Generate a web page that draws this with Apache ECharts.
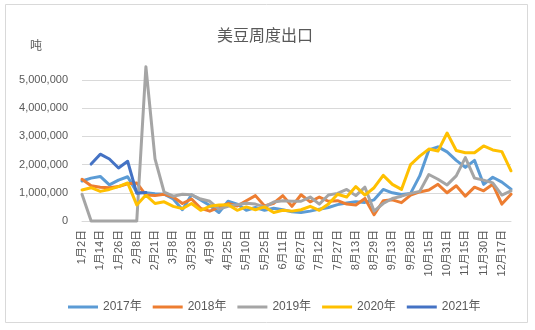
<!DOCTYPE html>
<html>
<head>
<meta charset="utf-8">
<script src="https://cdn.jsdelivr.net/npm/echarts@6/dist/echarts.min.js"></script>
<style>
html,body{margin:0;padding:0;background:#fff;}
#c{width:535px;height:330px;}
</style>
</head>
<body>
<div id="c"></div>
<script>
const categories = ['1月2日','1月8日','1月14日','1月20日','1月26日','2月1日','2月8日','2月14日','2月21日','2月28日',
'3月8日','3月15日','3月23日','4月1日','4月9日','4月17日','4月25日','5月2日','5月10日','5月17日',
'5月25日','6月2日','6月11日','6月19日','6月27日','7月4日','7月12日','7月19日','7月27日','8月5日',
'8月13日','8月21日','8月29日','9月5日','9月13日','9月20日','9月28日','10月7日','10月15日','10月23日',
'10月31日','11月7日','11月15日','11月22日','11月30日','12月8日','12月17日','12月24日'];

const y2017 = [1420000,1520000,1580000,1280000,1450000,1570000,1020000,1000000,970000,950000,
780000,400000,930000,750000,550000,300000,700000,600000,380000,480000,
380000,450000,400000,330000,300000,350000,420000,480000,580000,640000,
680000,660000,750000,1120000,1000000,940000,980000,1600000,2520000,2630000,
2450000,2150000,1900000,2150000,1300000,1550000,1380000,1130000];

const y2018 = [1480000,1250000,1200000,1180000,1220000,1320000,1350000,920000,900000,950000,
850000,620000,780000,450000,350000,480000,620000,530000,720000,900000,
530000,630000,900000,520000,930000,680000,850000,700000,720000,600000,
570000,800000,220000,720000,750000,650000,920000,1030000,1100000,1300000,
1000000,1250000,880000,1200000,1070000,1300000,600000,950000];

const y2019 = [950000,0,0,0,0,0,0,5470000,2200000,1020000,
880000,950000,930000,780000,700000,420000,520000,580000,630000,600000,
500000,670000,720000,700000,700000,850000,600000,920000,980000,1120000,
900000,1200000,350000,620000,800000,880000,980000,1050000,1650000,1480000,
1280000,1600000,2250000,1520000,1450000,1350000,920000,1070000];

const y2020 = [1100000,1180000,1050000,1120000,1220000,1350000,570000,920000,620000,680000,
520000,440000,620000,380000,520000,570000,580000,380000,500000,400000,
500000,300000,380000,350000,400000,520000,380000,600000,950000,850000,
1220000,920000,1180000,1620000,1300000,1120000,2000000,2300000,2550000,2480000,
3120000,2500000,2420000,2420000,2660000,2520000,2460000,1780000];

const y2021 = [null,2020000,2370000,2200000,1880000,2120000,980000,1010000,null,null,
null,null,null,null,null,null,null,null,null,null,
null,null,null,null,null,null,null,null,null,null,
null,null,null,null,null,null,null,null,null,null,
null,null,null,null,null,null,null,null];

const seriesNames = ['2017年','2018年','2019年','2020年','2021年'];
const seriesColors = ['#5B9BD5','#ED7D31','#A5A5A5','#FFC000','#4472C4'];
const seriesData = [y2017,y2018,y2019,y2020,y2021];

const FONT = '"Liberation Sans","Noto Sans CJK SC",sans-serif';
const chart = echarts.init(document.getElementById('c'), null, {renderer:'canvas'});
chart.setOption({
  animation:false,
  backgroundColor:'#fff',
  textStyle:{fontFamily:FONT},
  title:{
    text:'美豆周度出口',
    left:212, top:24,
    textStyle:{fontSize:16,fontWeight:'normal',color:'#595959',fontFamily:FONT}
  },
  graphic:[
    {type:'rect',shape:{x:5.5,y:4.5,width:522,height:318},style:{fill:'none',stroke:'#d9d9d9',lineWidth:1},silent:true,z:-1},
    {type:'text',left:30,top:41,style:{text:'吨',fontSize:12,fill:'#595959',fontFamily:FONT}}
  ],
  legend:{
    top:296, left:63,
    icon:'rect', itemWidth:30, itemHeight:3, itemGap:11,
    textStyle:{fontSize:12,color:'#595959',fontFamily:FONT},
    data:seriesNames
  },
  grid:{left:82,right:24,top:80,bottom:109,containLabel:false},
  xAxis:{
    type:'category',
    data:categories,
    boundaryGap:false,
    axisLine:{show:true,lineStyle:{color:'#d9d9d9',width:1}},
    axisTick:{show:false},
    axisLabel:{interval:1,rotate:90,fontSize:11,color:'#595959',margin:9,fontFamily:FONT}
  },
  yAxis:{
    type:'value',
    min:0,max:5000000,interval:1000000,
    axisLine:{show:false},
    axisTick:{show:false},
    splitLine:{lineStyle:{color:'#d9d9d9',width:1}},
    axisLabel:{fontSize:11,color:'#595959',margin:14,fontFamily:FONT,
      formatter:function(v){return v.toLocaleString('en-US');}}
  },
  series:seriesNames.map(function(n,i){
    return {
      name:n, type:'line', data:seriesData[i],
      showSymbol:false, symbol:'none', clip:false, connectNulls:false,
      lineStyle:{color:seriesColors[i],width:3,join:'round',cap:'round'},
      itemStyle:{color:seriesColors[i]}
    };
  })
});
</script>
</body>
</html>
